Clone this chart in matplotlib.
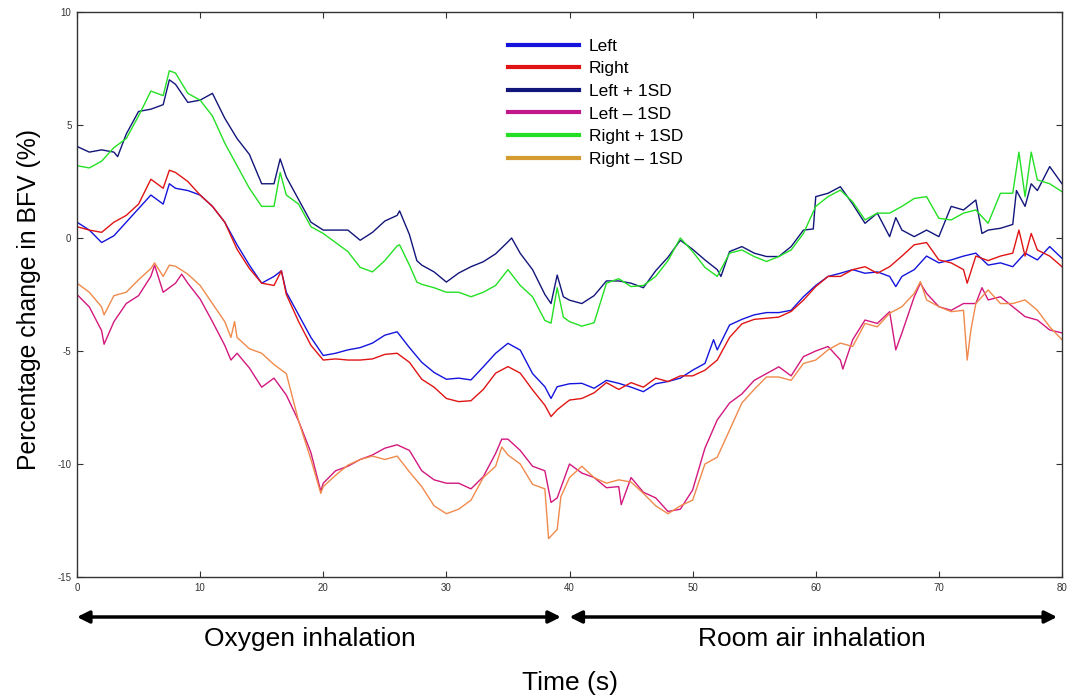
import numpy as np
import matplotlib
matplotlib.use('Agg')
import matplotlib.pyplot as plt
from matplotlib.lines import Line2D

plt.rcParams['font.family'] = ['Liberation Sans', 'DejaVu Sans']
plt.rcParams['axes.unicode_minus'] = False
plt.rcParams['xtick.direction'] = 'in'
plt.rcParams['ytick.direction'] = 'in'
plt.rcParams['xtick.top'] = True
plt.rcParams['ytick.right'] = True

# values read at every second (t = 0..80 s), percentage change in BFV
left = [0.7, 0.35, -0.2, 0.1, 0.7, 1.3, 1.9, 1.5, 2.2, 2.1,
        1.9, 1.4, 0.7, -0.3, -1.2, -2.0, -1.7, -2.4, -3.4, -4.4,
        -5.2, -5.1, -4.95, -4.85, -4.65, -4.3, -4.15, -4.85, -5.5, -5.95,
        -6.25, -6.2, -6.28, -5.7, -5.1, -4.66, -4.96, -6.0, -6.58, -6.58,
        -6.45, -6.43, -6.65, -6.3, -6.43, -6.6, -6.8, -6.45, -6.35, -6.2,
        -5.85, -5.55, -4.95, -3.85, -3.6, -3.4, -3.3, -3.3, -3.2, -2.6,
        -2.1, -1.7, -1.56, -1.4, -1.56, -1.5, -1.7, -1.7, -1.4, -0.8,
        -1.1, -0.97, -0.8, -0.67, -1.2, -1.1, -1.27, -0.67, -0.97, -0.38,
        -0.9]
right = [0.5, 0.35, 0.25, 0.7, 1.0, 1.5, 2.6, 2.2, 2.9, 2.5,
         1.9, 1.4, 0.7, -0.5, -1.35, -2.0, -2.1, -2.5, -3.7, -4.75,
         -5.4, -5.35, -5.4, -5.4, -5.35, -5.15, -5.1, -5.5, -6.25, -6.6,
         -7.1, -7.24, -7.2, -6.7, -5.98, -5.69, -5.98, -6.72, -7.4, -7.6,
         -7.17, -7.1, -6.85, -6.4, -6.7, -6.4, -6.6, -6.2, -6.35, -6.1,
         -6.1, -5.85, -5.4, -4.4, -3.8, -3.6, -3.55, -3.5, -3.25, -2.75,
         -2.15, -1.7, -1.7, -1.4, -1.27, -1.56, -1.27, -0.8, -0.3, -0.2,
         -0.97, -1.1, -1.4, -0.8, -1.0, -0.8, -0.67, -0.8, -0.53, -0.8,
         -1.27]
left_hi = [4.05, 3.8, 3.9, 3.8, 4.6, 5.6, 5.7, 5.9, 6.8, 6.0,
           6.1, 6.4, 5.3, 4.4, 3.7, 2.4, 2.4, 2.7, 1.7, 0.7,
           0.35, 0.35, 0.35, -0.1, 0.25, 0.75, 1.0, 0.15, -1.2, -1.5,
           -1.95, -1.55, -1.27, -1.05, -0.7, -0.17, -0.68, -1.4, -2.5, -1.64,
           -2.75, -2.9, -2.55, -1.9, -1.9, -2.0, -2.2, -1.45, -0.85, -0.1,
           -0.5, -0.97, -1.4, -0.6, -0.38, -0.67, -0.82, -0.82, -0.38, 0.35,
           1.83, 1.98, 2.27, 1.5, 0.65, 1.1, 0.06, 0.35, 0.06, 0.35,
           0.06, 1.4, 1.24, 1.68, 0.35, 0.43, 0.6, 1.4, 2.1, 3.16,
           2.4]
left_lo = [-2.5, -3.05, -4.1, -3.7, -2.9, -2.55, -1.7, -2.4, -2.0, -2.0,
           -2.7, -3.7, -4.75, -5.1, -5.75, -6.6, -6.2, -6.95, -8.1, -9.5,
           -10.85, -10.3, -10.1, -9.8, -9.6, -9.3, -9.15, -9.4, -10.3, -10.7,
           -10.85, -10.85, -11.1, -10.56, -9.53, -8.9, -9.4, -10.1, -10.3, -11.5,
           -10.0, -10.4, -10.6, -11.05, -11.0, -10.6, -11.25, -11.5, -12.1, -12.0,
           -11.15, -9.3, -8.05, -7.3, -6.9, -6.3, -6.0, -5.7, -6.1, -5.25,
           -5.0, -4.8, -5.4, -4.5, -3.63, -3.78, -3.26, -4.2, -2.6, -2.45,
           -3.04, -3.2, -2.9, -2.9, -2.74, -2.6, -3.04, -3.48, -3.63, -4.07,
           -4.2]
right_hi = [3.2, 3.1, 3.4, 4.0, 4.4, 5.4, 6.5, 6.3, 7.3, 6.4,
            6.1, 5.4, 4.2, 3.2, 2.2, 1.4, 1.4, 1.9, 1.5, 0.5,
            0.2, -0.2, -0.6, -1.3, -1.5, -1.0, -0.35, -1.2, -2.05, -2.2,
            -2.4, -2.4, -2.6, -2.4, -2.1, -1.4, -2.1, -2.6, -3.65, -2.2,
            -3.7, -3.9, -3.75, -2.0, -1.8, -2.15, -2.1, -1.7, -1.0, 0.0,
            -0.6, -1.3, -1.7, -0.67, -0.53, -0.82, -1.04, -0.82, -0.53, 0.2,
            1.4, 1.83, 2.12, 1.6, 0.8, 1.1, 1.1, 1.4, 1.75, 1.83,
            0.87, 0.8, 1.1, 1.24, 0.65, 1.98, 1.98, 1.83, 2.57, 2.4,
            2.05]
right_lo = [-2.0, -2.4, -3.05, -2.55, -2.4, -1.85, -1.35, -1.7, -1.25, -1.6,
            -2.1, -2.9, -3.7, -4.4, -4.9, -5.1, -5.6, -6.0, -8.1, -9.8,
            -11.0, -10.5, -10.05, -9.8, -9.65, -9.8, -9.65, -10.35, -11.0, -11.85,
            -12.2, -12.0, -11.6, -10.6, -10.1, -9.6, -10.0, -10.9, -11.1, -12.9,
            -10.6, -10.1, -10.6, -10.85, -10.7, -10.8, -11.3, -11.85, -12.2, -11.85,
            -11.6, -10.0, -9.7, -8.5, -7.3, -6.7, -6.15, -6.15, -6.3, -5.55,
            -5.4, -4.95, -4.65, -4.8, -3.78, -3.93, -3.33, -3.04, -2.45, -2.74,
            -3.04, -3.26, -3.2, -2.9, -2.3, -2.9, -2.9, -2.74, -3.2, -3.93,
            -4.5]

# short spikes seen between the whole seconds: (time, value)
left_spikes = [(7.5, 2.4), (16.6, -1.45), (38.5, -7.1), (51.7, -4.5), (66.5, -2.15)]
right_spikes = [(7.5, 3.0), (16.6, -1.45), (38.5, -7.9), (72.3, -2.0), (76.5, 0.35), (77.5, 0.2)]
left_hi_spikes = [(3.3, 3.6), (7.5, 7.0), (16.5, 3.5), (26.2, 1.2), (27.6, -1.0), (35.3, 0.0),
                  (38.5, -2.9), (39.5, -2.6), (52.3, -1.7), (59.8, 0.4), (66.5, 0.9),
                  (73.5, 0.2), (76.3, 2.1), (77.5, 2.4)]
left_lo_spikes = [(2.2, -4.7), (6.3, -1.2), (8.5, -1.6), (12.5, -5.4), (19.8, -11.2), (34.5, -8.9),
                  (38.5, -11.7), (44.2, -11.8), (62.2, -5.8), (66.5, -4.95), (68.5, -2.0), (73.5, -2.2)]
right_hi_spikes = [(7.5, 7.4), (16.5, 2.9), (26.2, -0.3), (27.6, -1.95), (38.5, -3.77), (39.5, -3.5),
                   (76.5, 3.8), (77.5, 3.8)]
right_lo_spikes = [(2.2, -3.4), (6.3, -1.1), (7.5, -1.2), (12.5, -4.4), (12.8, -3.7), (19.8, -11.3),
                   (34.5, -9.25), (38.3, -13.3), (39.3, -11.45), (68.5, -1.93), (72.3, -5.4), (72.6, -4.07)]

labels = ['Left', 'Right', 'Left + 1SD', 'Left \u2013 1SD', 'Right + 1SD', 'Right \u2013 1SD']
line_colors = ['#1414dc', '#e01414', '#12167a', '#d2187e', '#24e024', '#f08a4c']
legend_colors = ['#1414dc', '#e01414', '#12167a', '#c0188a', '#24e024', '#d49c30']


def merge(vals, spikes):
    t = np.concatenate([np.arange(len(vals)), [s[0] for s in spikes]])
    v = np.concatenate([vals, [s[1] for s in spikes]])
    order = np.argsort(t)
    return t[order], v[order]


series = [(left, left_spikes), (right, right_spikes), (left_hi, left_hi_spikes),
          (left_lo, left_lo_spikes), (right_hi, right_hi_spikes), (right_lo, right_lo_spikes)]

fig = plt.figure(figsize=(10.72, 6.99), dpi=100)
ax = fig.add_axes([77/1072, 1 - 577/699, 985/1072, 565/699])

for (vals, spk), c in zip(series, line_colors):
    t, v = merge(vals, spk)
    ax.plot(t, v, color=c, lw=1.0)

ax.set_xlim(0, 80)
ax.set_ylim(-15, 10)
ax.set_xticks(range(0, 81, 10))
ax.set_yticks([-15, -10, -5, 0, 5, 10])
ax.tick_params(labelsize=7, length=4, width=0.8, colors='#333333', pad=4)
for s in ax.spines.values():
    s.set_linewidth(1.0)
    s.set_color('#333333')

handles = [Line2D([], [], color=c, lw=3) for c in legend_colors]
ax.legend(handles, labels, loc='upper left', bbox_to_anchor=(0.4376, 0.953), frameon=False,
          fontsize=12.5, handlelength=4.1, handletextpad=0.55, labelspacing=0.43,
          borderpad=0, borderaxespad=0)

# phase arrows below the axis
arrow_y = -16.77
for x0, x1 in [(0, 39.3), (40.0, 79.6)]:
    ax.annotate('', xy=(x0, arrow_y), xytext=(x1, arrow_y), annotation_clip=False,
                arrowprops=dict(arrowstyle='<|-|>', color='black', lw=2.5,
                                mutation_scale=18, shrinkA=0, shrinkB=0))
ax.text(18.9, -17.75, 'Oxygen inhalation', fontsize=19, ha='center', va='center', clip_on=False)
ax.text(59.7, -17.75, 'Room air inhalation', fontsize=19, ha='center', va='center', clip_on=False)

fig.text(570/1072, 1 - 683/699, 'Time (s)', fontsize=19, ha='center', va='center')
fig.text(29/1072, 1 - 299/699, 'Percentage change in BFV (%)', fontsize=17.8,
         ha='center', va='center', rotation=90)

fig.savefig('out.png', dpi=100)
